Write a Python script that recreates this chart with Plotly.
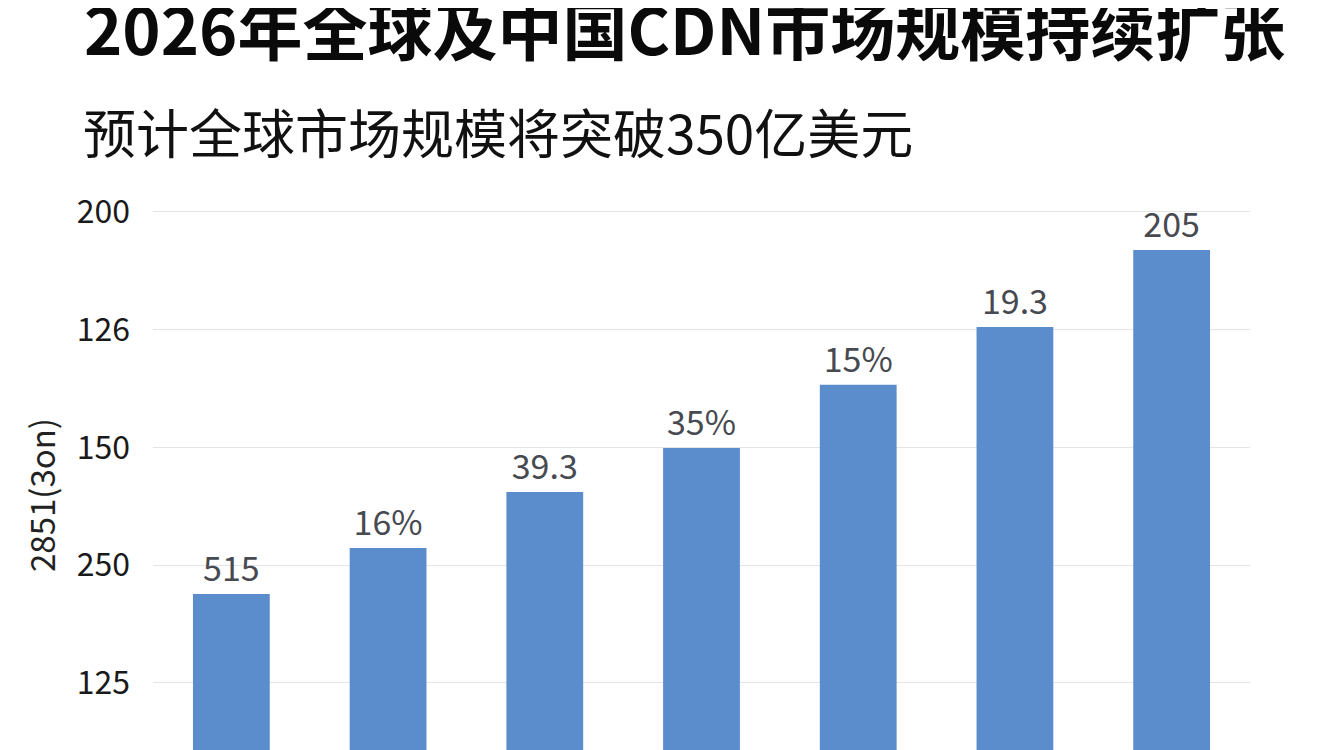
import plotly.graph_objects as go

# chart data
years = ["2020", "2021", "2022", "2023", "2024", "2025", "2026"]
bar_heights = [137.8, 157.3, 181.1, 199.8, 226.6, 251.2, 283.9]
bar_labels = ["515", "16%", "39.3", "35%", "15%", "19.3", "205"]
tick_vals = [100, 150, 200, 250, 300]
tick_text = ["125", "250", "150", "126", "200"]

title_text = "2026年全球及中国CDN市场规模持续扩张"
subtitle_text = "预计全球市场规模将突破350亿美元"
yaxis_title = "2851(3on)"

FONT = "Noto Sans CJK SC, Noto Sans, sans-serif"

# plot area in figure pixels
PL, PT, PW, PH = 145, 187, 1097, 563

fig = go.Figure()

fig.add_trace(go.Bar(
    x=years,
    y=bar_heights,
    text=bar_labels,
    textposition="outside",
    constraintext="none",
    cliponaxis=False,
    textfont=dict(family=FONT, size=34, color="#474a50"),
    marker=dict(color="#5b8dcd", line=dict(width=0)),
    hoverinfo="skip",
))

fig.update_layout(
    width=1344,
    height=750,
    margin=dict(l=PL, r=1344 - PL - PW, t=PT, b=0),
    paper_bgcolor="white",
    plot_bgcolor="white",
    showlegend=False,
    bargap=0.51,
    font=dict(family=FONT, color="#111111"),
    title=dict(
        text=f"<b>{title_text}</b>",
        font=dict(family=FONT, size=65, color="#0a0a0a"),
        xref="container", x=76 / 1344, xanchor="left",
        yref="container", y=1 - 24 / 750, yanchor="middle",
    ),
    annotations=[
        dict(
            text=subtitle_text,
            xref="paper", yref="paper",
            x=(73 - PL) / PW, y=(750 - 123) / PH,
            xanchor="left", yanchor="middle",
            showarrow=False,
            font=dict(family=FONT, size=53, color="#111111"),
        ),
        dict(
            text=yaxis_title,
            xref="paper", yref="paper",
            x=(33 - PL) / PW, y=(750 - 487) / PH,
            xanchor="center", yanchor="middle",
            textangle=-90,
            showarrow=False,
            font=dict(family=FONT, size=33, color="#222222"),
        ),
    ],
)

fig.update_xaxes(
    showticklabels=False,
    showgrid=False,
    zeroline=False,
    showline=False,
    range=[-0.5, 6.5],
)

fig.update_yaxes(
    range=[68.15, 307.2],
    tickvals=tick_vals,
    ticktext=tick_text,
    tickfont=dict(family=FONT, size=32, color="#1a1a1a"),
    ticks="",
    ticklabelstandoff=22,
    showgrid=True,
    gridcolor="#e4e4e4",
    gridwidth=1,
    zeroline=False,
    showline=False,
)

fig.write_html("out.html")
